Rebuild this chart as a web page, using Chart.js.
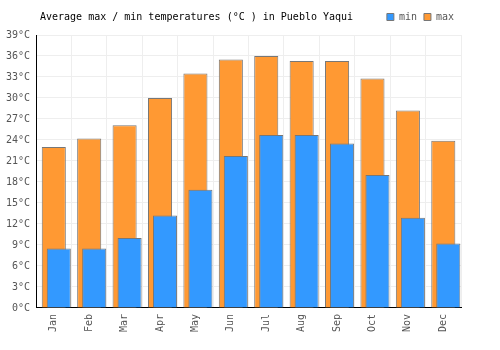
<!DOCTYPE html>
<html>
<head>
<meta charset="utf-8">
<script src="https://cdn.jsdelivr.net/npm/chart.js@4"></script>
<style>
html,body{margin:0;padding:0;background:#fff;}
#wrap{width:500px;height:350px;}
</style>
</head>
<body>
<div id="wrap"><canvas id="c" width="500" height="350"></canvas></div>
<script>
const months = ["Jan","Feb","Mar","Apr","May","Jun","Jul","Aug","Sep","Oct","Nov","Dec"];
const minTemps = [8.5, 8.5, 10.0, 13.2, 16.9, 21.7, 24.7, 24.7, 23.5, 19.0, 12.9, 9.2];
const maxTemps = [23.0, 24.2, 26.1, 30.0, 33.5, 35.5, 36.0, 35.3, 35.3, 32.8, 28.2, 23.9];
const titleText = "Average max / min temperatures (°C ) in Pueblo Yaqui";

const FONT = "'DejaVu Sans Mono', monospace";

const shiftPlugin = {
  id: 'shift',
  beforeDatasetDraw(chart, args) {
    const ds = chart.data.datasets[args.index];
    chart.ctx.save();
    chart.ctx.translate(ds.shiftX || 0, 0);
  },
  afterDatasetDraw(chart) {
    chart.ctx.restore();
  }
};

const legendSpace = {
  id: 'legendSpace',
  beforeLayout(chart) {
    const lg = chart.legend;
    if (lg && !lg._wrapped) {
      const orig = lg.fit;
      lg.fit = function() { orig.call(this); this.height += 3; };
      lg._wrapped = true;
    }
  }
};

const titlePlugin = {
  id: 'customTitle',
  afterDraw(chart) {
    const ctx = chart.ctx;
    ctx.save();
    ctx.font = "10px " + FONT;
    ctx.fillStyle = "#000";
    ctx.textBaseline = "middle";
    ctx.textAlign = "left";
    ctx.fillText(titleText, 40, 17);
    ctx.restore();
  }
};

new Chart(document.getElementById('c'), {
  type: 'bar',
  data: {
    labels: months,
    datasets: [
      {label: 'min', data: minTemps, backgroundColor: '#3399ff', borderColor: '#777777', borderWidth: 1, shiftX: 5},
      {label: 'max', data: maxTemps, backgroundColor: '#ff9933', borderColor: '#777777', borderWidth: 1, shiftX: 0}
    ]
  },
  options: {
    responsive: false,
    animation: false,
    layout: {padding: {left: 0, right: 39, top: 5, bottom: 12}},
    datasets: {bar: {grouped: false, categoryPercentage: 1, barPercentage: 0.68}},
    plugins: {
      title: {display: false},
      tooltip: {enabled: false},
      legend: {
        position: 'top', align: 'end',
        labels: {boxWidth: 7, boxHeight: 7, padding: 7, color: '#555', font: {family: FONT, size: 10}},
        padding: 0
      }
    },
    scales: {
      x: {
        grid: {color: '#eeeeee', drawTicks: false, offset: true},
        border: {color: '#000', width: 1},
        ticks: {color: '#555', font: {family: FONT, size: 10}, minRotation: 90, maxRotation: 90, padding: 6}
      },
      y: {
        min: 0, max: 39,
        grid: {color: '#eeeeee', drawTicks: false},
        border: {color: '#000', width: 1},
        ticks: {stepSize: 3, color: '#555', font: {family: FONT, size: 10}, padding: 6,
          callback: v => v + '°C'}
      }
    }
  },
  plugins: [shiftPlugin, legendSpace, titlePlugin]
});
</script>
</body>
</html>
